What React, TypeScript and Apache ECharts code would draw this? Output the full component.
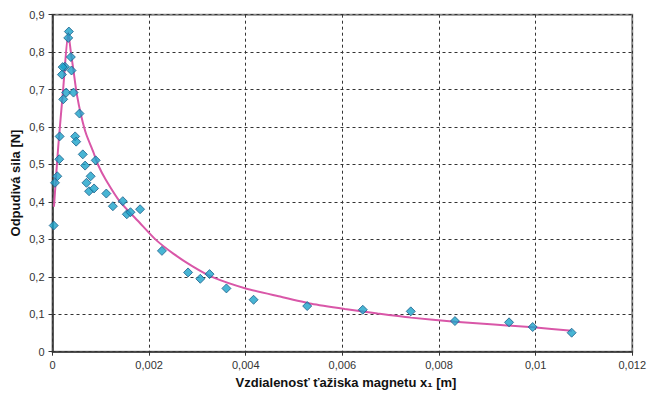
import React, { useEffect, useRef } from "react";
import * as echarts from "echarts";

const measuredX = [
  0.000339, 0.000326, 0.00038, 0.000394, 0.000257, 0.00021, 0.000195, 0.000284, 0.000435,
  0.000222, 0.000559, 0.000148, 0.000469, 0.00049, 0.000627, 0.00014, 0.000675, 0.000894,
  0.0000987, 0.0000514, 0.000703, 0.00079, 0.000757, 0.00086, 0.001114, 0.0000247,
  0.00125, 0.001455, 0.001538, 0.001614, 0.001813, 0.002265, 0.002806, 0.003059, 0.003251,
  0.0036, 0.004162, 0.005272, 0.006423, 0.007416, 0.00833, 0.00945, 0.00994, 0.010746,
];
const measuredY = [
  0.855, 0.838, 0.787, 0.751, 0.761, 0.76, 0.74, 0.692, 0.692,
  0.674, 0.636, 0.575, 0.575, 0.561, 0.527, 0.514, 0.497, 0.511,
  0.4685, 0.451, 0.451, 0.4685, 0.4285, 0.436, 0.4224, 0.337,
  0.3885, 0.402, 0.367, 0.3725, 0.3805, 0.2693, 0.2117, 0.1947, 0.2072,
  0.169, 0.1387, 0.1219, 0.112, 0.1077, 0.0819, 0.0784, 0.0659, 0.0507,
];

const fitX = [
  0.00003, 0.00012, 0.00022, 0.000326, 0.00038, 0.00043, 0.0005, 0.0006, 0.0007, 0.00084,
  0.00094, 0.0011, 0.0014, 0.0018, 0.00213, 0.0025, 0.0029, 0.0033, 0.004, 0.00468,
  0.00536, 0.00605, 0.00673, 0.00742, 0.00833, 0.00995, 0.01075,
];
const fitY = [
  0.387, 0.55, 0.7, 0.853, 0.8, 0.755, 0.69, 0.627, 0.58, 0.535,
  0.5, 0.46, 0.4, 0.345, 0.3, 0.262, 0.228, 0.2, 0.169, 0.148,
  0.128, 0.114, 0.102, 0.091, 0.08, 0.065, 0.056,
];

const xTitle = "Vzdialenosť ťažiska magnetu x₁ [m]";
const yTitle = "Odpudivá sila [N]";

const fmt = (v: number) => String(+v.toFixed(5)).replace(".", ",");

export default function App() {
  const ref = useRef<HTMLDivElement>(null);
  useEffect(() => {
    if (!ref.current) return;
    const chart = echarts.init(ref.current, null, { renderer: "svg" });
    const font = "'Liberation Sans', Arial, sans-serif";
    chart.setOption({
      animation: false,
      backgroundColor: "#ffffff",
      grid: {
        left: 52.5,
        right: 12.5,
        top: 14.7,
        bottom: 45.3,
        show: true,
        borderColor: "#888",
        borderWidth: 2,
      },
      xAxis: {
        type: "value",
        min: 0,
        max: 0.012,
        interval: 0.002,
        axisLine: { show: true, onZero: false, lineStyle: { color: "#333", width: 1.5 } },
        axisTick: { show: true, length: 4, lineStyle: { color: "#333" } },
        axisLabel: {
          formatter: fmt,
          color: "#333",
          fontSize: 11,
          fontFamily: font,
          margin: 8,
        },
        splitLine: { show: true, lineStyle: { color: "#333", type: [3, 3], width: 1 } },
      },
      yAxis: {
        type: "value",
        min: 0,
        max: 0.9,
        interval: 0.1,
        axisLine: { show: true, onZero: false, lineStyle: { color: "#333", width: 1.5 } },
        axisTick: { show: true, length: 4, lineStyle: { color: "#333" } },
        axisLabel: {
          formatter: fmt,
          color: "#333",
          fontSize: 11,
          fontFamily: font,
          margin: 8,
        },
        splitLine: { show: true, lineStyle: { color: "#333", type: [3, 3], width: 1 } },
      },
      graphic: [
        {
          type: "text",
          x: 346,
          y: 382,
          style: {
            text: xTitle,
            font: `bold 13px ${font}`,
            fill: "#111",
            align: "center",
            verticalAlign: "middle",
          },
        },
        {
          type: "text",
          x: 15,
          y: 183,
          rotation: Math.PI / 2,
          style: {
            text: yTitle,
            font: `bold 13px ${font}`,
            fill: "#111",
            align: "center",
            verticalAlign: "middle",
          },
        },
      ],
      series: [
        {
          type: "line",
          data: fitX.map((x, i) => [x, fitY[i]]),
          smooth: 0.2,
          showSymbol: false,
          lineStyle: { color: "#d957a8", width: 2 },
          z: 2,
        },
        {
          type: "scatter",
          data: measuredX.map((x, i) => [x, measuredY[i]]),
          symbol: "diamond",
          symbolSize: 9,
          itemStyle: { color: "#1aa3c9", borderColor: "#1d5f8a", borderWidth: 1 },
          z: 3,
        },
      ],
    });
    return () => chart.dispose();
  }, []);
  return <div ref={ref} style={{ width: 649, height: 397, position: "fixed", left: 0, top: 0 }} />;
}
